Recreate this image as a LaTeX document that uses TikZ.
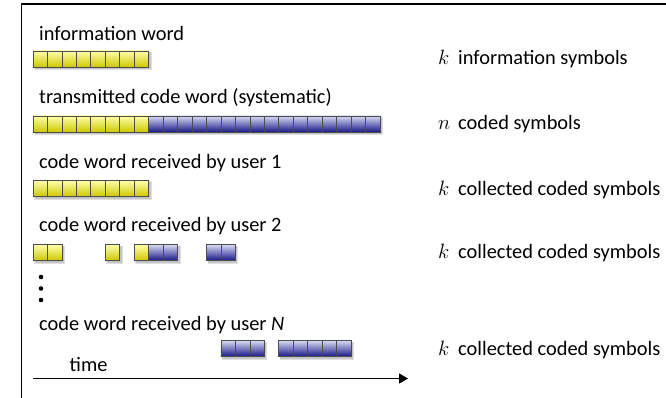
\documentclass[tikz,border=0pt]{standalone}
\usepackage{fontspec}
\setmainfont{Carlito}
\usetikzlibrary{arrows.meta}
\definecolor{yelTop}{RGB}{255,255,170}
\definecolor{yelMid}{RGB}{255,255,0}
\definecolor{yelBot}{RGB}{205,200,0}
\definecolor{bluTop}{RGB}{215,218,242}
\definecolor{bluMid}{RGB}{125,130,205}
\definecolor{bluBot}{RGB}{25,25,135}
\tikzset{
  ycell/.style={draw=black!70, line width=0.7pt, top color=yelTop, middle color=yelMid, bottom color=yelBot},
  bcell/.style={draw=black!70, line width=0.7pt, top color=bluTop, middle color=bluMid, bottom color=bluBot},
  lbl/.style={anchor=base west, inner sep=0pt, font=\fontsize{20.4}{23}\selectfont},
  frameline/.style={line width=1.4pt},
  timeaxis/.style={line width=1.2pt, -{Triangle[length=9pt,width=10pt]}},
}
\newcommand\cellw{14.46}
% soft shadow under a run of cells: top y, first cell, number of cells
\newcommand\shadowrun[3]{%
  \fill[black,opacity=0.12] ({33+#2*\cellw+1},#1+1) rectangle ({33+(#2+#3)*\cellw+3},#1+19);
  \fill[black,opacity=0.12] ({33+#2*\cellw+1.5},#1+1.5) rectangle ({33+(#2+#3)*\cellw+2},#1+18);
}
% a run of cells: top y, first cell, number of cells, style
\newcommand\cellrun[4]{%
  \foreach \i in {1,...,#3}{\path[#4] ({33+(#2+\i-1)*\cellw},#1) rectangle ++(\cellw,16);}
}
\begin{document}
\begin{tikzpicture}[x=1pt,y=-1pt]
\useasboundingbox (0,0) rectangle (666,398);
\draw[frameline] (21.5,398) -- (21.5,4) -- (666,4);

% row labels
\node[lbl] (l1) at (39,41) {information word};
\node[lbl] (l2) at (39,104) {transmitted code word (systematic)};
\node[lbl] (l3) at (39,168.5) {code word received by user 1};
\node[lbl] (l4) at (39,231.5) {code word received by user 2};
\node[lbl] (l5) at (39,330) {code word received by user \textit{N}};

% information word
\shadowrun{51}{0}{8}
\cellrun{51}{0}{8}{ycell}
% systematic code word
\shadowrun{116}{0}{24}
\cellrun{116}{0}{8}{ycell}
\cellrun{116}{8}{16}{bcell}
% user 1
\shadowrun{180.5}{0}{8}
\cellrun{180.5}{0}{8}{ycell}
% user 2
\shadowrun{244.5}{0}{2}
\cellrun{244.5}{0}{2}{ycell}
\shadowrun{244.5}{5}{1}
\cellrun{244.5}{5}{1}{ycell}
\shadowrun{244.5}{7}{3}
\cellrun{244.5}{7}{1}{ycell}
\cellrun{244.5}{8}{2}{bcell}
\shadowrun{244.5}{12}{2}
\cellrun{244.5}{12}{2}{bcell}
% user N
\shadowrun{340.5}{13}{3}
\cellrun{340.5}{13}{3}{bcell}
\shadowrun{340.5}{17}{5}
\cellrun{340.5}{17}{5}{bcell}

% vertical ellipsis
\fill (41,277) circle (2.3);
\fill (41,288.5) circle (2.3);
\fill (41,300) circle (2.3);

% time axis
\node[lbl] (tl) at (69.5,371.5) {time};
\coordinate (t0) at (33,378.5);
\coordinate (t1) at (408,378.5);
\draw[timeaxis] (t0) -- (t1);

% right-hand annotations
\node[lbl] (r1) at (438,65) {\makebox[20pt][l]{$k$}information symbols};
\node[lbl] (r2) at (438,130) {\makebox[20pt][l]{$n$}coded symbols};
\node[lbl] (r3) at (438,195) {\makebox[20pt][l]{$k$}collected coded symbols};
\node[lbl] (r4) at (438,258) {\makebox[20pt][l]{$k$}collected coded symbols};
\node[lbl] (r5) at (438,355) {\makebox[20pt][l]{$k$}collected coded symbols};
\end{tikzpicture}
\end{document}
